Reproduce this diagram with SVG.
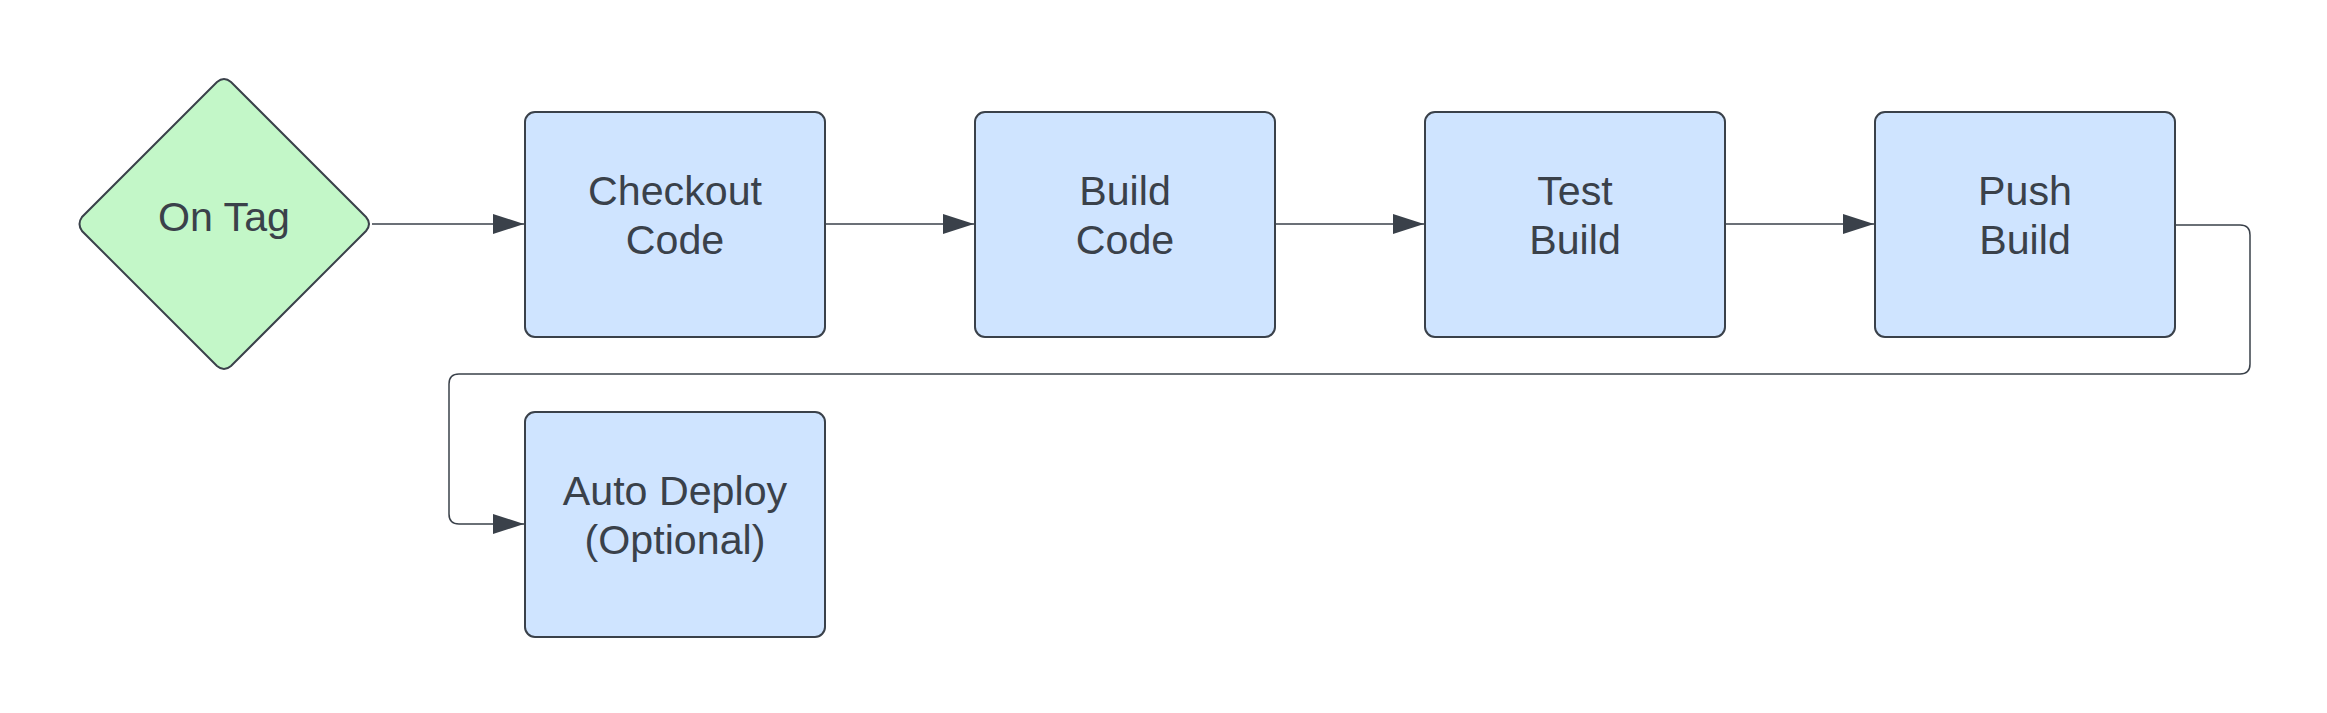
<svg xmlns="http://www.w3.org/2000/svg" width="2327" height="713" viewBox="0 0 2327 713">
<style>
.box{fill:#cfe4ff;stroke:#3a414a;stroke-width:2}
.dia{fill:#c3f7c8;stroke:#3a414a;stroke-width:2}
.lbl{font-family:"Liberation Sans",Arial,sans-serif;font-size:41.2px;fill:#3a414a;text-anchor:middle}
.conn{fill:none;stroke:#3a414a;stroke-width:1.5}
</style>
<defs>
<marker id="arr" markerUnits="userSpaceOnUse" markerWidth="31" markerHeight="20" refX="31" refY="10" orient="auto">
<path d="M0,0 L31,10 L0,20 z" fill="#3a414a"/>
</marker>
</defs>
<rect width="2327" height="713" fill="#ffffff"/>
<g id="connectors">
<path class="conn" d="M372,224 L524,224" marker-end="url(#arr)"/>
<path class="conn" d="M825,224 L974,224" marker-end="url(#arr)"/>
<path class="conn" d="M1275,224 L1424,224" marker-end="url(#arr)"/>
<path class="conn" d="M1725,224 L1874,224" marker-end="url(#arr)"/>
<path class="conn" d="M2175,225 L2240,225 Q2250,225 2250,235 L2250,364 Q2250,374 2240,374 L459,374 Q449,374 449,384 L449,514 Q449,524 459,524 L524,524" marker-end="url(#arr)"/>
</g>
<g id="on-tag">
<path class="dia" d="M217,82 Q224,76 231,82 L366,217 Q372,224 366,231 L231,366 Q224,372 217,366 L82,231 Q77,224 82,217 Z"/>
<text class="lbl" x="224" y="231">On Tag</text>
</g>
<g id="checkout-code">
<rect class="box" x="525" y="112" width="300" height="225" rx="10"/>
<text class="lbl" x="675" y="205">Checkout</text>
<text class="lbl" x="675" y="254">Code</text>
</g>
<g id="build-code">
<rect class="box" x="975" y="112" width="300" height="225" rx="10"/>
<text class="lbl" x="1125" y="205">Build</text>
<text class="lbl" x="1125" y="254">Code</text>
</g>
<g id="test-build">
<rect class="box" x="1425" y="112" width="300" height="225" rx="10"/>
<text class="lbl" x="1575" y="205">Test</text>
<text class="lbl" x="1575" y="254">Build</text>
</g>
<g id="push-build">
<rect class="box" x="1875" y="112" width="300" height="225" rx="10"/>
<text class="lbl" x="2025" y="205">Push</text>
<text class="lbl" x="2025" y="254">Build</text>
</g>
<g id="auto-deploy">
<rect class="box" x="525" y="412" width="300" height="225" rx="10"/>
<text class="lbl" x="675" y="505">Auto Deploy</text>
<text class="lbl" x="675" y="554">(Optional)</text>
</g>
</svg>
